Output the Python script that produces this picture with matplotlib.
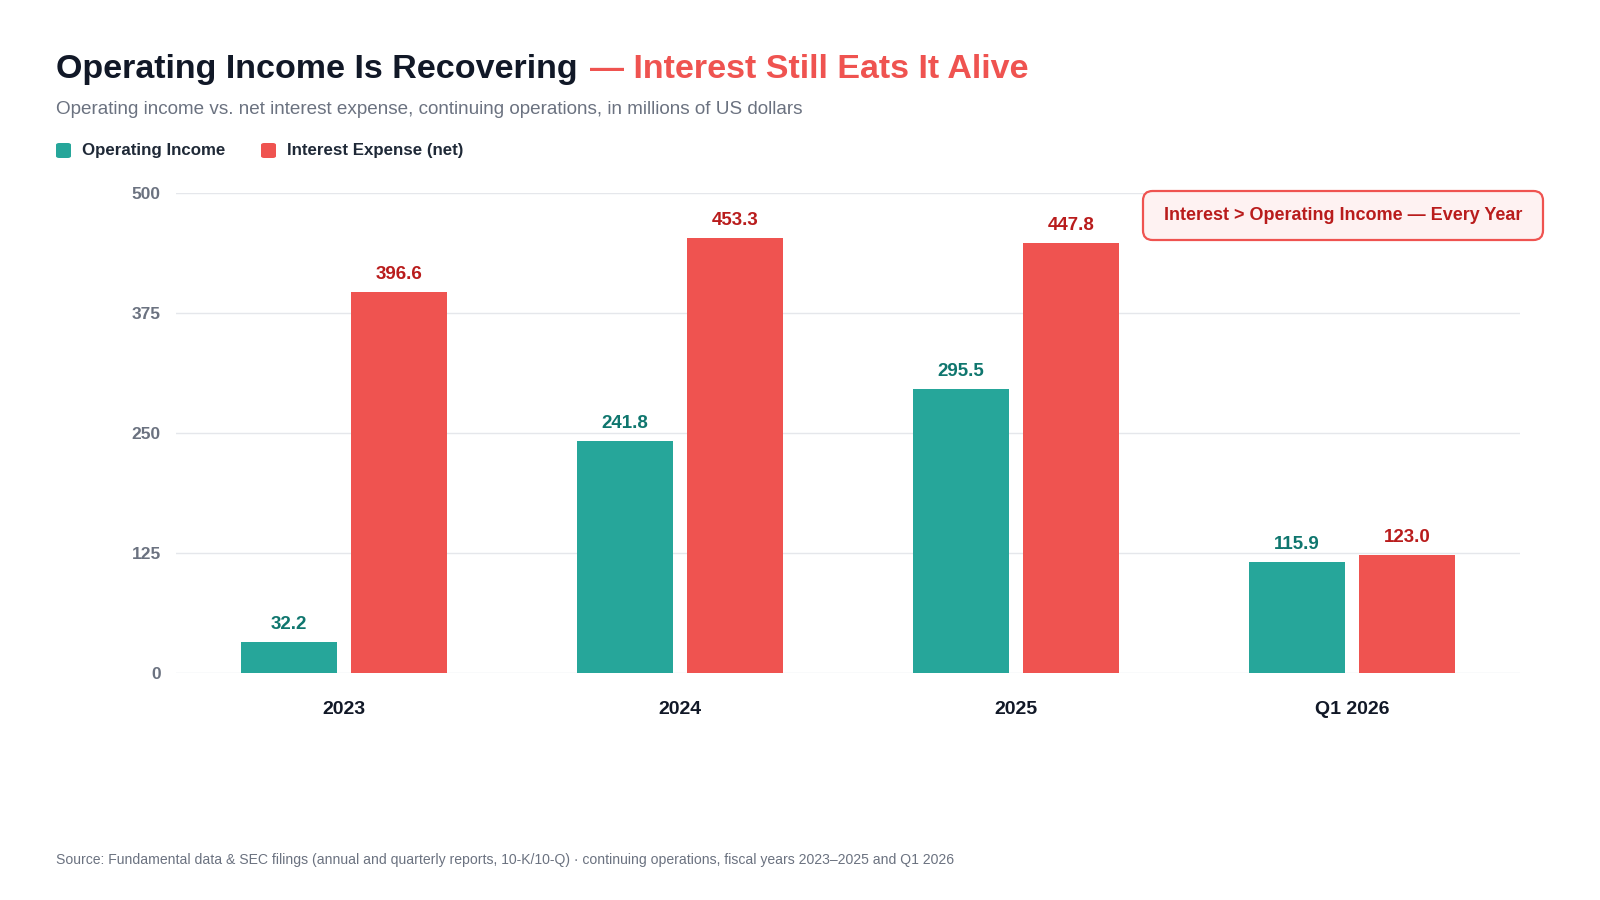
#!/usr/bin/env python3
"""Operating income vs. net interest expense, grouped bar chart."""

import matplotlib
matplotlib.use("Agg")
import matplotlib.pyplot as plt
import numpy as np
from matplotlib.patches import FancyBboxPatch

# data (millions of USD)
periods = ["2023", "2024", "2025", "Q1 2026"]
operating_income = [32.2, 241.8, 295.5, 115.9]
interest_expense = [396.6, 453.3, 447.8, 123.0]
y_ticks = [0, 125, 250, 375, 500]

TEAL = "#26A69A"
RED = "#EF5350"
TEAL_DARK = "#0F766E"
RED_DARK = "#B91C1C"
INK = "#111827"
GRAY = "#6B7280"
GRID = "#E5E7EB"

plt.rcParams["font.family"] = ["Liberation Sans", "DejaVu Sans"]

W, H = 1600, 900
fig = plt.figure(figsize=(16, 9), dpi=100)
fig.patch.set_facecolor("white")


def px(x, y):
    """Pixel coords (from top-left) to figure fraction."""
    return x / W, 1 - y / H


ax = fig.add_axes([176 / W, 1 - 672.7 / H, (1520 - 176) / W, (672.7 - 193.3) / H])
x = np.arange(len(periods))
bw = 0.2857
off = 0.1637

ax.bar(x - off, operating_income, bw, color=TEAL, zorder=3)
ax.bar(x + off, interest_expense, bw, color=RED, zorder=3)

for xi, v in zip(x, operating_income):
    ax.annotate(f"{v:.1f}", (xi - off, v), xytext=(0, 9), textcoords="offset pixels",
                ha="center", va="bottom", fontsize=13.5, fontweight="bold", color=TEAL_DARK)
for xi, v in zip(x, interest_expense):
    ax.annotate(f"{v:.1f}", (xi + off, v), xytext=(0, 9), textcoords="offset pixels",
                ha="center", va="bottom", fontsize=13.5, fontweight="bold", color=RED_DARK)

ax.set_xlim(-0.5, len(periods) - 0.5)
ax.set_ylim(0, 500)
ax.set_yticks(y_ticks)
ax.set_yticklabels([str(t) for t in y_ticks])
ax.set_xticks(x)
ax.set_xticklabels(periods)
ax.grid(axis="y", color=GRID, linewidth=1, zorder=0)
for s in ax.spines.values():
    s.set_visible(False)
ax.tick_params(axis="y", length=0, pad=11, labelsize=12.5, labelcolor=GRAY)
ax.tick_params(axis="x", length=0, pad=20.5, labelsize=14)
for lbl in ax.get_yticklabels():
    lbl.set_fontweight("bold")
for lbl in ax.get_xticklabels():
    lbl.set_fontweight("bold")
    lbl.set_color(INK)

# title in two colours
renderer = fig.canvas.get_renderer()
t1 = fig.text(*px(56, 78), "Operating Income Is Recovering", fontsize=24.5,
              fontweight="bold", color=INK, va="baseline", ha="left")
bb = t1.get_window_extent(renderer)
fig.text(bb.x1 / W + 12 / W, 1 - 78 / H, "\u2014 Interest Still Eats It Alive", fontsize=24.5,
         fontweight="bold", color=RED, va="baseline", ha="left")

fig.text(*px(56, 109), "Operating income vs. net interest expense, continuing operations, "
         "in millions of US dollars", fontsize=13.6, color=GRAY, va="center", ha="left")

# legend
for lx, name, col in [(56, "Operating Income", TEAL), (261, "Interest Expense (net)", RED)]:
    sq = FancyBboxPatch(px(lx, 158), 15 / W, 15 / H, boxstyle="round,pad=0,rounding_size=0.002",
                        transform=fig.transFigure, facecolor=col, edgecolor="none")
    fig.patches.append(sq)
    fig.text(*px(lx + 26, 151), name, fontsize=12.2, fontweight="bold", color="#1F2937",
             va="center", ha="left")

# callout box
box_l, box_r, box_t, box_b = 1143, 1543, 191, 240
callout = FancyBboxPatch(px(box_l, box_b), (box_r - box_l) / W, (box_b - box_t) / H,
                         boxstyle="round,pad=0,rounding_size=10", mutation_aspect=1,
                         transform=fig.transFigure, facecolor="#FEF2F2",
                         edgecolor=RED, linewidth=1.6)
callout.set_boxstyle("round,pad=0,rounding_size=0.006")
callout.set_mutation_aspect(W / H)
fig.patches.append(callout)
fig.text(*px((box_l + box_r) / 2, 216), "Interest > Operating Income \u2014 Every Year",
         fontsize=13, fontweight="bold", color=RED_DARK, ha="center", va="center")

fig.text(*px(56, 860), "Source: Fundamental data & SEC filings (annual and quarterly reports, "
         "10-K/10-Q) \u00b7 continuing operations, fiscal years 2023\u20132025 and Q1 2026",
         fontsize=10.05, color=GRAY, va="center", ha="left")

fig.savefig("out.png", dpi=100, facecolor="white")
